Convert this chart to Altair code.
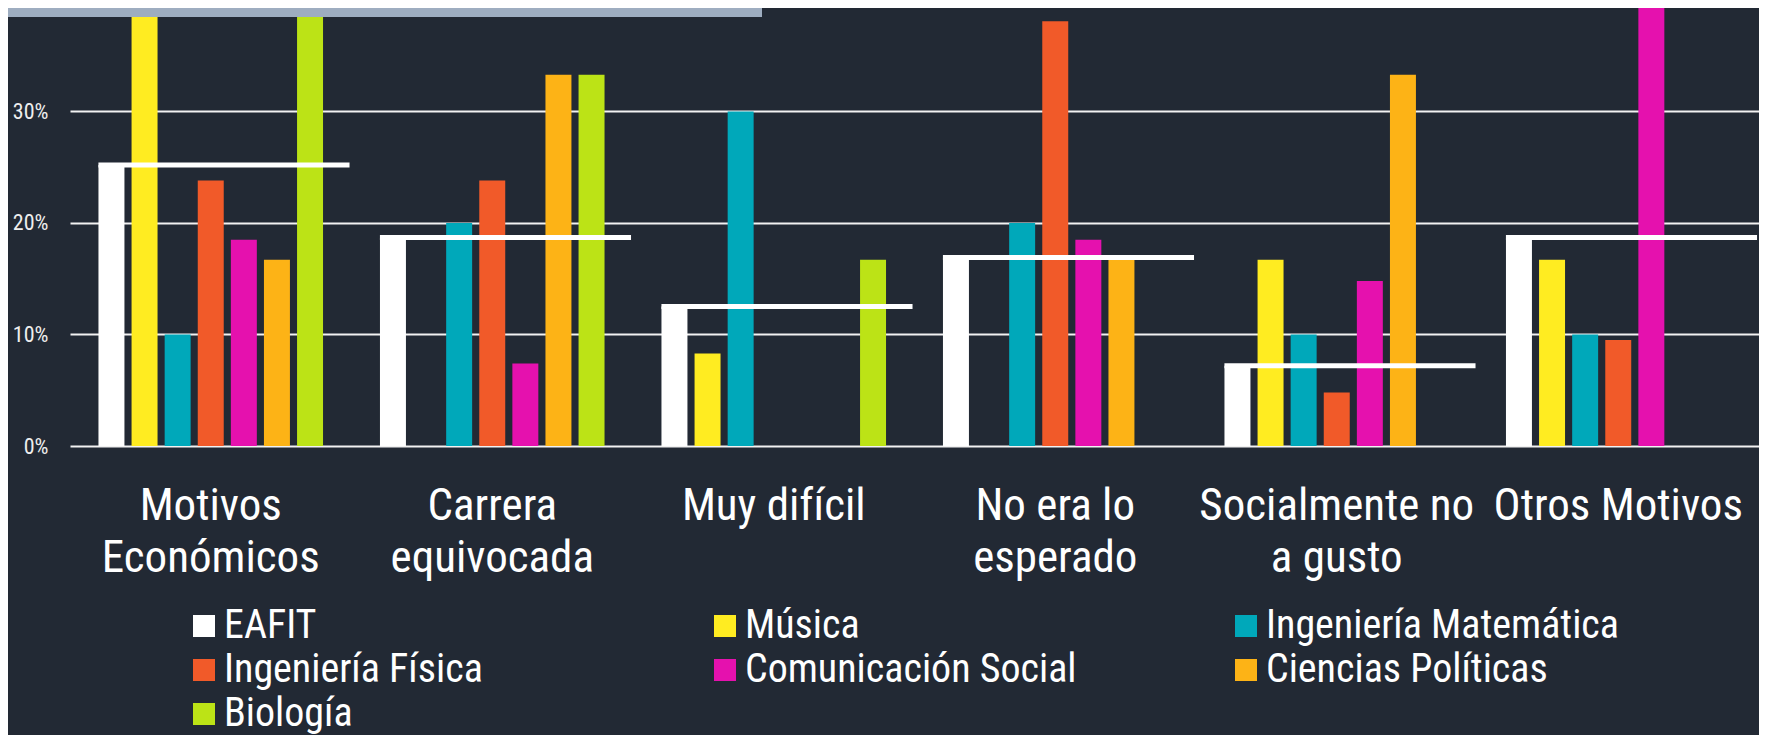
import altair as alt
import pandas as pd

categories = ["Motivos|Económicos", "Carrera|equivocada", "Muy difícil",
              "No era lo|esperado", "Socialmente no|a gusto", "Otros Motivos"]
series = ["EAFIT", "Música", "Ingeniería Matemática", "Ingeniería Física",
          "Comunicación Social", "Ciencias Políticas", "Biología"]
colors = ["#FFFFFF", "#FFEC21", "#00A8BA", "#F15A29", "#E511AE", "#FDB316", "#BCE316"]

# percentages per category (values above ~39% are cut off at the top in the original)
eafit = [25.2, 18.7, 12.5, 16.9, 7.2, 18.7]
musica = [50.0, 0, 8.3, 0, 16.7, 16.7]
ing_mat = [10.0, 20.0, 30.0, 20.0, 10.0, 10.0]
ing_fis = [23.8, 23.8, 0, 38.1, 4.8, 9.5]
com_soc = [18.5, 7.4, 0, 18.5, 14.8, 44.4]
cien_pol = [16.7, 33.3, 0, 16.7, 33.3, 0]
biologia = [50.0, 33.3, 16.7, 0, 0, 0]

y_ticks = [0, 10, 20, 30]

FONT = "Roboto Condensed"
BG = "#222934"

all_series = [eafit, musica, ing_mat, ing_fis, com_soc, cien_pol, biologia]
rows = []
for s_name, vals in zip(series, all_series):
    for c, v in zip(categories, vals):
        rows.append({"cat": c, "serie": s_name, "value": v})
df = pd.DataFrame(rows)
eafit_df = pd.DataFrame({"cat": categories, "value": eafit})

x_scale = alt.Scale(domain=categories, paddingInner=0, paddingOuter=0)
y_scale = alt.Scale(domain=[0, 39.28], nice=False, zero=True)

bars = alt.Chart(df).transform_filter("datum.value > 0").mark_bar(clip=True).encode(
    x=alt.X("cat:N", scale=x_scale, sort=categories, title=None,
            axis=alt.Axis(labelExpr="split(datum.label, '|')", labelAngle=0,
                          labelFontSize=45, labelLineHeight=52, labelColor="#FFFFFF",
                          labelFont=FONT, labelPadding=37, labelLimit=600,
                          labelBaseline="top", domain=False, ticks=False, grid=False,
                          labelOverlap=False)),
    xOffset=alt.XOffset("serie:N", scale=alt.Scale(domain=series, paddingInner=0.215,
                                                   paddingOuter=0.86)),
    y=alt.Y("value:Q", scale=y_scale, title=None,
            axis=alt.Axis(values=y_ticks, labelExpr="datum.value + '%'", domain=False,
                          ticks=False, grid=True, gridColor="#F2F2F2", gridWidth=2,
                          labelFontSize=22, labelColor="#EEEEEE", labelFont=FONT,
                          labelPadding=22)),
    color=alt.Color("serie:N", scale=alt.Scale(domain=series, range=colors),
                    legend=alt.Legend(title=None, orient="none", legendX=114, legendY=598,
                                      direction="horizontal", columns=3, gridAlign="all",
                                      columnPadding=128, rowPadding=4, symbolType="square",
                                      symbolSize=484, symbolStrokeWidth=0, labelFontSize=40,
                                      labelFont=FONT, labelColor="#FFFFFF",
                                      labelOffset=0, labelLimit=1000, padding=0)),
)

rules = alt.Chart(eafit_df).mark_rule(color="#FFFFFF", strokeWidth=5, strokeCap="butt").encode(
    x=alt.X("cat:N", scale=x_scale, sort=categories, bandPosition=0.101),
    x2=alt.X2("cat", bandPosition=0.993),
    y=alt.Y("value:Q", scale=y_scale),
)

banner = alt.Chart(pd.DataFrame({"a": [0]})).mark_rect(color="#9EADC0").encode(
    x=alt.value(-62), x2=alt.value(692), y=alt.value(0), y2=alt.value(9)
)

chart = alt.layer(bars, rules, banner).properties(
    width=1689, height=438,
    padding={"left": 62, "top": 0, "right": 0, "bottom": 289},
    autosize=alt.AutoSizeParams(type="none"),
    background=BG,
).configure_view(stroke=None)

chart.save("out.html", embed_options={"renderer": "svg", "actions": False})
